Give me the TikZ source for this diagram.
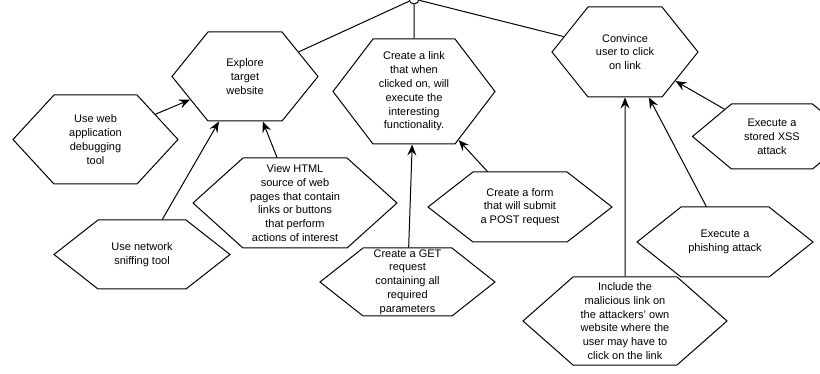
\documentclass[tikz,border=0pt]{standalone}
\usepackage{fontspec}
\setmainfont{Liberation Sans}
\usetikzlibrary{shapes.symbols,arrows.meta}
\begin{document}
\begin{tikzpicture}[x=1pt,y=-1pt,
  % hexagon: width, height, tip angle
  hex/.style n args={3}{shape=signal, signal to=east and west, draw=black,
    line width=1pt, fill=white, minimum width=#1, minimum height=#2,
    signal pointer angle=#3, inner sep=0pt, align=center,
    font=\fontsize{11}{13.8}\selectfont},
  edge/.style={draw=black, line width=1pt},
  arrow/.style={edge, -{Stealth[length=11pt,width=9pt,inset=4pt]}},
  junction/.style={circle, draw=black, line width=1pt, fill=white,
    minimum size=10pt, inner sep=0pt},
]
\useasboundingbox (0,0) rectangle (820,374);

% goal hexagons
\node[hex={146pt}{89pt}{102.1}] (explore) at (245,76.5) {Explore\\target\\website};
\node[hex={162pt}{105pt}{105.4}] (mklink) at (414,91.5)
  {Create a link\\that when\\clicked on, will\\execute the\\interesting\\functionality.};
\node[hex={146pt}{90pt}{102.7}] (convince) at (625,52) {Convince\\user to click\\on link};

% sub-steps
\node[hex={165pt}{89pt}{94.7}] (debug) at (95.5,139.5) {Use web\\application\\debugging\\tool};
\node[hex={176pt}{69pt}{76.2}] (network) at (142,254.5) {Use network\\sniffing tool};
\node[hex={204pt}{90pt}{84}] (viewhtml) at (295,203)
  {View HTML\\source of web\\pages that contain\\links or buttons\\that perform\\actions of interest};
\node[hex={184pt}{70pt}{75.8}] (form) at (520,207) {Create a form\\that will submit\\a POST request};
\node[hex={175pt}{68pt}{76.6}] (get) at (407.5,282)
  {Create a GET\\request\\containing all\\required\\parameters};
\node[hex={159pt}{65pt}{79.6}] (xss) at (772,136.5) {Execute a\\stored XSS\\attack};
\node[hex={176pt}{70pt}{77}] (phishing) at (725,242) {Execute a\\phishing attack};
\node[hex={204pt}{88pt}{82.7}] (include) at (625,321)
  {Include the\\malicious link on\\the attackers' own\\website where the\\user may have to\\click on the link};

% top junction
\node[junction] (root) at (414,-1) {};

% tree links
\draw[edge] (root) -- (explore);
\draw[edge] (root) -- (mklink);
\draw[edge] (root) -- (convince);

% refinement arrows
\draw[arrow] (debug) -- (explore);
\draw[arrow] (network) -- (explore);
\draw[arrow] (viewhtml) -- (explore);
\draw[arrow] (get) -- (mklink);
\draw[arrow] (form) -- (mklink);
\draw[arrow] (include) -- (convince);
\draw[arrow] (phishing) -- (convince);
\draw[arrow] (xss) -- (convince);
\end{tikzpicture}
\end{document}
